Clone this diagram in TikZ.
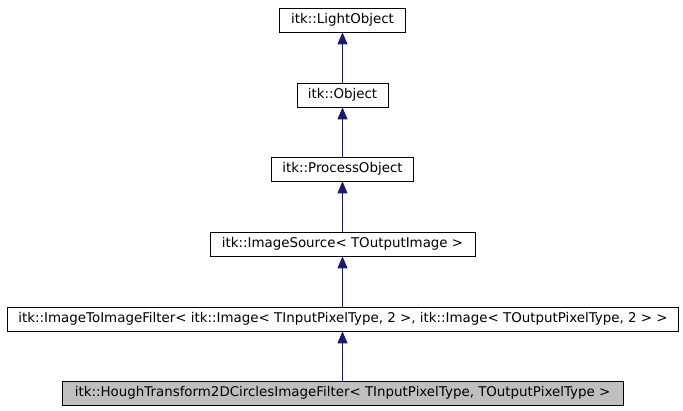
\documentclass[tikz,border=0pt]{standalone}
\usepackage{fontspec}
\setmainfont{DejaVu Sans}
\usetikzlibrary{arrows.meta}
\definecolor{edge}{HTML}{191970}
\definecolor{graybox}{HTML}{BFBFBF}
\tikzset{
  cls/.style={draw=black, line width=0.8pt, inner sep=0pt, anchor=center, font=\fontsize{13.4}{15}\selectfont, minimum height=24pt},
  inh/.style={draw=edge, line width=0.8pt, -{Triangle[length=12pt,width=10pt]}, fill=edge}
}
\begin{document}
\begin{tikzpicture}[x=1pt,y=-1pt]
\useasboundingbox (0,0) rectangle (683,411);
\node[cls, minimum width=126pt] (lo) at (342.5,20) {itk::LightObject};
\node[cls, minimum width=91pt] (ob) at (342.5,95) {itk::Object};
\node[cls, minimum width=142pt] (po) at (342.5,169) {itk::ProcessObject};
\node[cls, minimum width=265pt] (is) at (342.5,244) {itk::ImageSource< TOutputImage >};
\node[cls, minimum width=671pt] (itif) at (343,319) {itk::ImageToImageFilter< itk::Image< TInputPixelType, 2 >, itk::Image< TOutputPixelType, 2 > >};
\node[cls, minimum width=561pt, fill=graybox] (ht) at (342.5,393) {itk::HoughTransform2DCirclesImageFilter< TInputPixelType, TOutputPixelType >};
\draw[inh] (ob.north) -- (lo.south);
\draw[inh] (po.north) -- (ob.south);
\draw[inh] (is.north) -- (po.south);
\draw[inh] (itif.north -| is.south) -- (is.south);
\draw[inh] (ht.north -| is.south) -- (itif.south -| is.south);
\end{tikzpicture}
\end{document}
